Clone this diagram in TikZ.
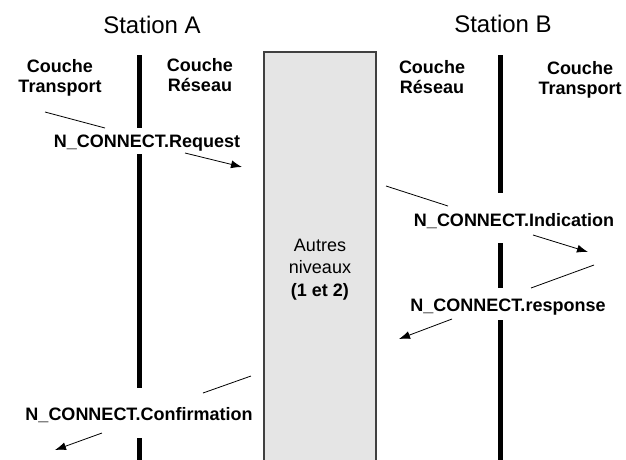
\documentclass[tikz,border=0pt]{standalone}
\usepackage{fontspec}
\setmainfont{Liberation Sans}
\usetikzlibrary{arrows.meta}

\tikzset{
  station/.style={font=\fontsize{24}{28}\selectfont, inner sep=0pt, anchor=base},
  couche/.style={font=\bfseries\fontsize{18}{20}\selectfont, align=center, inner sep=0pt, anchor=base},
  prim/.style={font=\bfseries\fontsize{18}{20}\selectfont, inner sep=0pt, anchor=base},
  vie/.style={line width=4.5pt},
  trait/.style={line width=0.8pt},
  fleche/.style={trait, -{Latex[length=11pt,width=8pt]}},
}

\begin{document}
\begin{tikzpicture}[x=1pt, y=-1pt]
   \useasboundingbox (0,0) rectangle (626,459);

   %autres niveaux
   \node[draw=black!75, line width=1.2pt, fill=black!10, minimum width=112pt, minimum height=412pt, inner sep=0pt] (niv) at (320,258) {};
   \node[align=center, font=\fontsize{18}{22.5}\selectfont, inner sep=0pt, anchor=base] (nivtxt) at (320,296) {Autres\\niveaux\\\textbf{(1 et 2)}};

   %stations
   \node[station] (sa) at (152,33) {Station A};
   \node[station] (sb) at (503,32) {Station B};

   %couches (base = derniere ligne)
   \node[couche] (ta) at (60,92) {Couche\\Transport};
   \node[couche] (ra) at (200,91) {Couche\\Réseau};
   \node[couche] (rb) at (432,93) {Couche\\Réseau};
   \node[couche] (tb) at (580,94) {Couche\\Transport};

   %primitives
   \node[prim] (req) at (147,147) {N\_CONNECT.Request};
   \node[prim] (ind) at (514,226) {N\_CONNECT.Indication};
   \node[prim] (rsp) at (508,311) {N\_CONNECT.response};
   \node[prim] (cnf) at (139,420) {N\_CONNECT.Confirmation};

   %lignes de vie
   \coordinate (a0) at (139.5,55);  \coordinate (a1) at (139.5,128);
   \coordinate (a2) at (139.5,154); \coordinate (a3) at (139.5,388);
   \coordinate (a4) at (139.5,438); \coordinate (a5) at (139.5,462);
   \coordinate (b0) at (500.5,55);  \coordinate (b1) at (500.5,193);
   \coordinate (b2) at (500.5,243); \coordinate (b3) at (500.5,288);
   \coordinate (b4) at (500.5,320); \coordinate (b5) at (500.5,462);

   \draw[vie] (a0) -- (a1) (a2) -- (a3) (a4) -- (a5);
   \draw[vie] (b0) -- (b1) (b2) -- (b3) (b4) -- (b5);

   %extremites des fleches
   \coordinate (req0) at (45,112);  \coordinate (req1) at (105,128);
   \coordinate (req2) at (185,153); \coordinate (req3) at (242,167);
   \coordinate (ind0) at (386,186); \coordinate (ind1) at (448,206);
   \coordinate (ind2) at (533,235); \coordinate (ind3) at (588,252);
   \coordinate (rsp0) at (594,265); \coordinate (rsp1) at (531,288);
   \coordinate (rsp2) at (452,319); \coordinate (rsp3) at (399,339);
   \coordinate (cnf0) at (251,376); \coordinate (cnf1) at (203,393);
   \coordinate (cnf2) at (102,433); \coordinate (cnf3) at (55,450);

  \path[trait]
    (req0) edge (req1)
    (ind0) edge (ind1)
    (rsp0) edge (rsp1)
    (cnf0) edge (cnf1);
  \path[fleche]
    (req2) edge (req3)
    (ind2) edge (ind3)
    (rsp2) edge (rsp3)
    (cnf2) edge (cnf3);
\end{tikzpicture}
\end{document}
